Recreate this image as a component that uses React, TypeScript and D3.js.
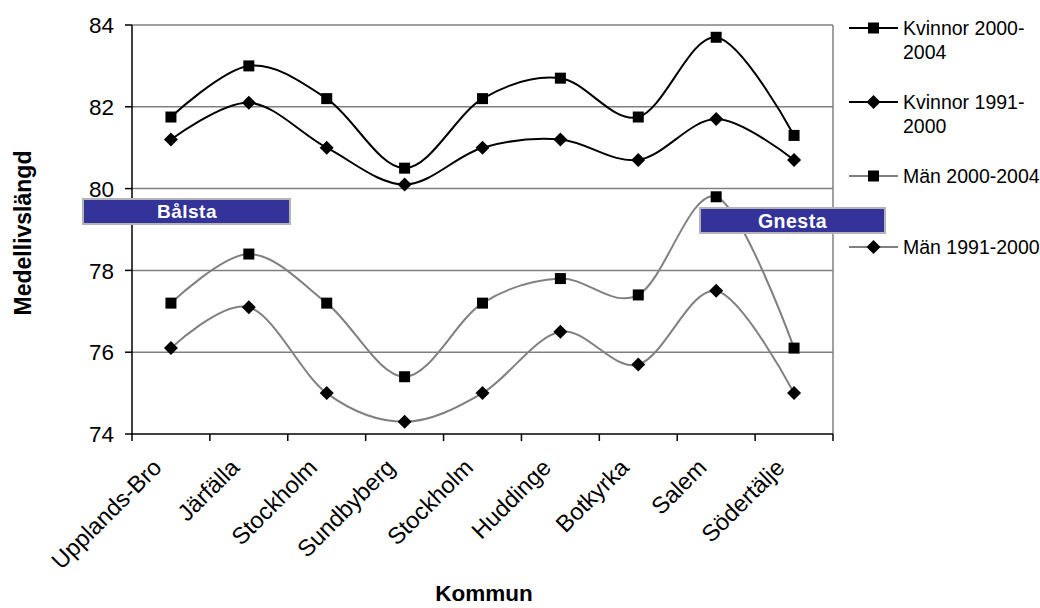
import React from "react";
import * as d3 from "d3";

// Municipalities along the x axis
const kommuner = [
  "Upplands-Bro",
  "Järfälla",
  "Stockholm",
  "Sundbyberg",
  "Stockholm",
  "Huddinge",
  "Botkyrka",
  "Salem",
  "Södertälje",
];

// Life expectancy per municipality
const kvinnor2000_2004 = [81.75, 83.0, 82.2, 80.5, 82.2, 82.7, 81.75, 83.7, 81.3];
const kvinnor1991_2000 = [81.2, 82.1, 81.0, 80.1, 81.0, 81.2, 80.7, 81.7, 80.7];
const man2000_2004 = [77.2, 78.4, 77.2, 75.4, 77.2, 77.8, 77.4, 79.8, 76.1];
const man1991_2000 = [76.1, 77.1, 75.0, 74.3, 75.0, 76.5, 75.7, 77.5, 75.0];

const yTicks = [74, 76, 78, 80, 82, 84];

const seriesNames = [
  ["Kvinnor 2000-", "2004"],
  ["Kvinnor 1991-", "2000"],
  ["Män 2000-2004"],
  ["Män 1991-2000"],
];

const FONT = "Arial, 'Liberation Sans', Helvetica, sans-serif";
const GRID = "#808080";

export default function App() {
  const left = 132;
  const right = 833;
  const top = 25;
  const bottom = 434;

  const x = d3.scaleBand<number>().domain(d3.range(kommuner.length)).range([left, right]);
  const y = d3.scaleLinear().domain([74, 84]).range([bottom, top]);

  const line = d3
    .line<number>()
    .x((_, i) => (x(i) as number) + x.bandwidth() / 2)
    .y((d) => y(d))
    .curve(d3.curveCatmullRom.alpha(0));

  const series = [
    { values: kvinnor2000_2004, color: "#000000", marker: "square" },
    { values: kvinnor1991_2000, color: "#000000", marker: "diamond" },
    { values: man2000_2004, color: "#808080", marker: "square" },
    { values: man1991_2000, color: "#808080", marker: "diamond" },
  ];

  const marker = (type: string, cx: number, cy: number, key: string) =>
    type === "square" ? (
      <rect key={key} x={cx - 5.5} y={cy - 5.5} width={11} height={11} fill="#000" />
    ) : (
      <path
        key={key}
        d={`M${cx},${cy - 7}L${cx + 7},${cy}L${cx},${cy + 7}L${cx - 7},${cy}Z`}
        fill="#000"
      />
    );

  const xBoundaries = d3.range(kommuner.length + 1).map((i) =>
    i < kommuner.length ? (x(i) as number) : right
  );

  const legendY = [28, 102, 176, 247];

  return (
    <svg
      width={1040}
      height={608}
      style={{ position: "absolute", left: 0, top: 0, background: "#fff" }}
      fontFamily={FONT}
    >
      {/* gridlines */}
      {yTicks.slice(1).map((t) => (
        <line key={t} x1={left} x2={right} y1={y(t)} y2={y(t)} stroke={GRID} strokeWidth={1.5} />
      ))}
      <line x1={right} x2={right} y1={top} y2={bottom} stroke={GRID} strokeWidth={1.5} />

      {/* y axis */}
      <line x1={left} x2={left} y1={top} y2={bottom} stroke="#000" strokeWidth={1.5} />
      {yTicks.map((t) => (
        <g key={t}>
          <line x1={left - 7} x2={left} y1={y(t)} y2={y(t)} stroke="#000" strokeWidth={1.5} />
          <text x={114} y={y(t)} dy="0.36em" textAnchor="end" fontSize={22.5}>
            {t}
          </text>
        </g>
      ))}

      {/* x axis */}
      <line x1={left} x2={right} y1={bottom} y2={bottom} stroke="#000" strokeWidth={1.5} />
      {xBoundaries.map((bx, i) => (
        <line key={i} x1={bx} x2={bx} y1={bottom} y2={bottom + 7} stroke="#000" strokeWidth={1.5} />
      ))}
      {kommuner.map((k, i) => {
        const cx = (x(i) as number) + x.bandwidth() / 2 - 8;
        const ty = 469;
        return (
          <text
            key={i}
            x={cx}
            y={ty}
            textAnchor="end"
            fontSize={23.5}
            transform={`rotate(-45 ${cx} ${ty})`}
          >
            {k}
          </text>
        );
      })}

      {/* series */}
      {series.map((s, si) => (
        <g key={si}>
          <path d={line(s.values) || ""} fill="none" stroke={s.color} strokeWidth={2} />
          {s.values.map((v, i) =>
            marker(s.marker, (x(i) as number) + x.bandwidth() / 2, y(v), `${si}-${i}`)
          )}
        </g>
      ))}

      {/* callout labels */}
      <rect x={83} y={199} width={207} height={25} fill="#333399" stroke="#b4b4b4" strokeWidth={2} />
      <text x={187} y={211.5} dy="0.36em" textAnchor="middle" fontSize={19} fontWeight="bold" fill="#fff" letterSpacing={0.5}>
        Bålsta
      </text>
      <rect x={700} y={208} width={185} height={25} fill="#333399" stroke="#b4b4b4" strokeWidth={2} />
      <text x={792.5} y={220.5} dy="0.36em" textAnchor="middle" fontSize={19.5} fontWeight="bold" fill="#fff" letterSpacing={0.5}>
        Gnesta
      </text>

      {/* legend */}
      {series.map((s, si) => (
        <g key={si}>
          <line x1={849} x2={898} y1={legendY[si]} y2={legendY[si]} stroke={s.color} strokeWidth={2} />
          {marker(s.marker, 873.5, legendY[si], `lg-${si}`)}
          {seriesNames[si].map((t, li) => (
            <text key={li} x={903} y={legendY[si] + li * 24} dy="0.36em" fontSize={19.5}>
              {t}
            </text>
          ))}
        </g>
      ))}

      {/* axis titles */}
      <text
        x={23}
        y={233}
        dy="0.36em"
        textAnchor="middle"
        fontSize={23}
        fontWeight="bold"
        transform="rotate(-90 23 233)"
      >
        Medellivslängd
      </text>
      <text x={484} y={601} textAnchor="middle" fontSize={22.5} fontWeight="bold">
        Kommun
      </text>
    </svg>
  );
}
